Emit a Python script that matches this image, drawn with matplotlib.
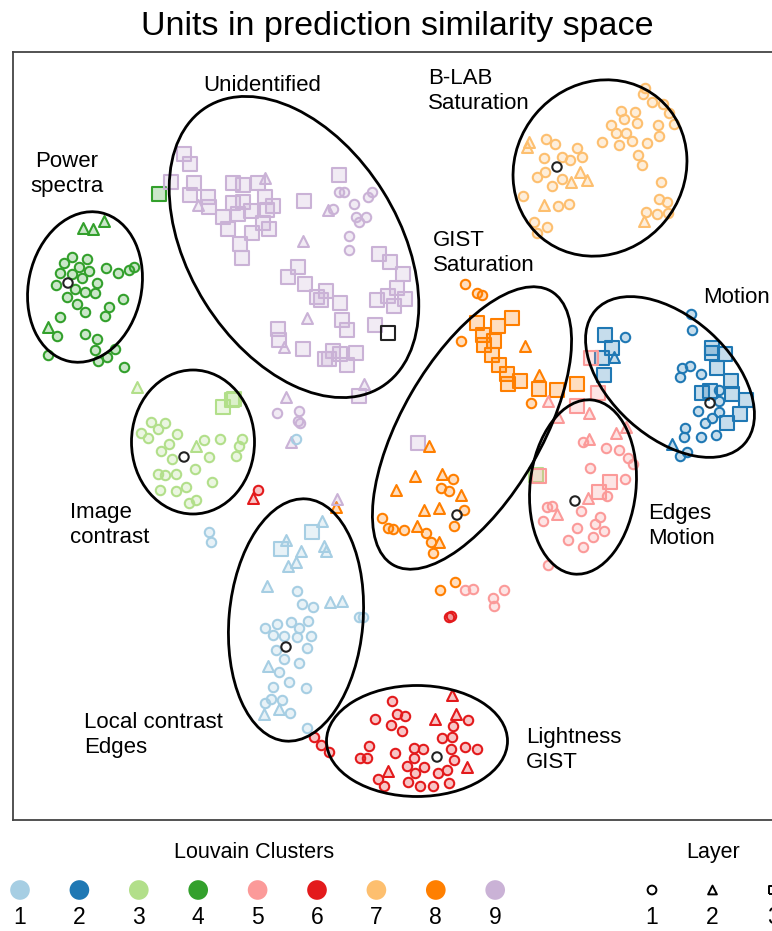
import numpy as np
import matplotlib
matplotlib.use("Agg")
import matplotlib.pyplot as plt
from matplotlib.patches import Ellipse
from matplotlib.colors import to_rgba

plt.rcParams['font.family'] = ['Liberation Sans', 'DejaVu Sans']

# Louvain cluster colours -------------------------------------------------
cluster_ids = [1, 2, 3, 4, 5, 6, 7, 8, 9]
colores = ['#a6cee3', '#1f78b4', '#b2df8a', '#33a02c', '#fb9a99',
           '#e31a1c', '#fdbf6f', '#ff7f00', '#cab2d6']
layer_ids = [1, 2, 3]
layer_markers = ['o', '^', 's']

# embedding coordinates (x, y) per cluster and layer ----------------------
c1_l1 = [(209, 532), (211, 542), (297, 591), (302, 604), (313, 607), (359, 617), (363, 617),
         (265, 628), (277, 624), (291, 622), (299, 628), (308, 621), (273, 635), (284, 636),
         (297, 637), (311, 636), (276, 650), (307, 648), (284, 659), (299, 663), (279, 672),
         (289, 682), (273, 687), (306, 688), (265, 703), (271, 699), (282, 700), (290, 713),
         (307, 728), (296, 439)]
c1_l2 = [(322, 521), (286, 540), (301, 551), (296, 562), (288, 566), (324, 546), (326, 551),
         (267, 586), (330, 602), (342, 601), (268, 666), (264, 714), (279, 709)]
c1_l3 = [(312, 532), (281, 549)]

c2_l1 = [(691, 314), (692, 330), (625, 337), (682, 368), (690, 366), (680, 377), (701, 374),
         (719, 390), (719, 401), (698, 411), (719, 412), (712, 418), (705, 423), (685, 428),
         (684, 437), (701, 437), (716, 435), (687, 452), (680, 456)]
c2_l2 = [(614, 357), (672, 444)]
c2_l3 = [(605, 335), (612, 348), (602, 358), (604, 375), (712, 348), (712, 353), (725, 354),
         (717, 368), (731, 381), (702, 393), (710, 391), (732, 394), (746, 400), (740, 414),
         (727, 423)]

c3_l1 = [(151, 422), (158, 429), (165, 423), (141, 433), (148, 438), (177, 434), (161, 451),
         (169, 444), (172, 459), (204, 440), (220, 439), (242, 439), (239, 446), (236, 456),
         (209, 457), (195, 469), (158, 474), (165, 475), (176, 474), (212, 482), (160, 490),
         (176, 491), (186, 487), (189, 503), (196, 500)]
c3_l2 = [(196, 446), (137, 387)]
c3_l3 = [(223, 407), (232, 400), (234, 399), (536, 475)]

c4_l1 = [(72, 257), (87, 259), (64, 263), (79, 267), (89, 271), (60, 273), (72, 274), (82, 278),
         (106, 268), (118, 273), (129, 270), (134, 267), (56, 285), (97, 283), (75, 289),
         (85, 292), (95, 293), (67, 297), (123, 299), (77, 304), (109, 307), (85, 312),
         (105, 316), (60, 317), (57, 336), (85, 334), (97, 339), (95, 350), (115, 349),
         (107, 357), (98, 361), (48, 355), (124, 367)]
c4_l2 = [(83, 228), (93, 229), (104, 221), (48, 327)]
c4_l3 = [(159, 194)]

c5_l1 = [(583, 442), (606, 448), (619, 450), (628, 458), (633, 464), (590, 468), (625, 479),
         (607, 496), (547, 507), (552, 506), (581, 511), (600, 517), (543, 521), (595, 524),
         (577, 528), (604, 531), (593, 537), (568, 540), (583, 547), (548, 565), (465, 590),
         (473, 589), (493, 598), (504, 590), (494, 606)]
c5_l2 = [(548, 401), (589, 413), (558, 417), (616, 433), (626, 427), (589, 439), (588, 498),
         (557, 514)]
c5_l3 = [(591, 358), (598, 393), (577, 406), (610, 482), (599, 492), (539, 476)]

c6_l1 = [(392, 701), (375, 719), (397, 714), (405, 716), (391, 725), (402, 731), (369, 746),
         (360, 758), (367, 758), (395, 753), (414, 748), (423, 749), (414, 758), (407, 766),
         (424, 767), (415, 773), (378, 779), (384, 786), (408, 782), (420, 786), (433, 786),
         (438, 773), (447, 770), (454, 760), (451, 749), (442, 738), (452, 737), (453, 726),
         (468, 720), (465, 747), (477, 749), (449, 783), (314, 737), (321, 745), (329, 752),
         (449, 617), (451, 616), (258, 490)]
c6_l2 = [(452, 695), (435, 719), (456, 714), (388, 771), (467, 767), (253, 498)]
c6_l3 = []

c7_l1 = [(645, 88), (643, 94), (652, 102), (663, 104), (669, 113), (674, 124), (621, 111),
         (635, 112), (624, 119), (637, 123), (611, 125), (616, 133), (626, 133), (632, 141),
         (619, 145), (647, 143), (658, 125), (659, 136), (602, 142), (638, 155), (642, 165),
         (546, 139), (555, 144), (577, 148), (582, 157), (562, 157), (570, 160), (544, 158),
         (545, 172), (537, 177), (552, 186), (562, 179), (523, 196), (558, 206), (569, 204),
         (534, 222), (547, 227), (537, 233), (661, 182), (659, 199), (667, 202), (657, 214),
         (668, 213), (646, 212)]
c7_l2 = [(529, 142), (527, 147), (580, 172), (571, 182), (587, 180), (544, 205), (644, 221)]
c7_l3 = []

c8_l1 = [(465, 284), (477, 293), (482, 295), (461, 341), (531, 403), (453, 479), (441, 488),
         (449, 491), (464, 510), (382, 518), (388, 528), (393, 529), (404, 530), (426, 533),
         (454, 526), (431, 542), (433, 553), (440, 590), (455, 582)]
c8_l2 = [(525, 346), (539, 375), (429, 446), (415, 476), (442, 474), (396, 490), (461, 495),
         (424, 510), (439, 508), (417, 526), (439, 542), (336, 507)]
c8_l3 = [(512, 318), (477, 323), (498, 326), (483, 335), (494, 341), (484, 345), (492, 355),
         (499, 365), (507, 374), (520, 381), (508, 384), (539, 389), (557, 390), (577, 384)]

c9_l1 = [(339, 192), (344, 192), (333, 209), (354, 204), (368, 197), (372, 192), (356, 217),
         (359, 222), (366, 217), (349, 236), (349, 250), (277, 413), (299, 411), (298, 421),
         (300, 423)]
c9_l2 = [(265, 178), (198, 205), (328, 210), (303, 241), (307, 318), (284, 347), (364, 384),
         (286, 397), (291, 442), (337, 499)]
c9_l3 = [(184, 154), (190, 164), (171, 182), (194, 183), (233, 183), (243, 185), (258, 183),
         (190, 195), (208, 197), (209, 207), (233, 203), (243, 202), (265, 197), (273, 206),
         (267, 210), (251, 211), (238, 214), (223, 217), (263, 223), (269, 229), (228, 229),
         (252, 233), (240, 244), (242, 258), (304, 201), (339, 175), (379, 254), (390, 262),
         (403, 274), (298, 267), (288, 277), (305, 284), (326, 291), (317, 297), (321, 300),
         (340, 303), (397, 288), (388, 296), (405, 299), (377, 300), (394, 306), (342, 320),
         (347, 330), (375, 325), (278, 329), (279, 340), (303, 349), (333, 351), (340, 354),
         (356, 353), (325, 359), (329, 359), (347, 365), (359, 396), (418, 443)]

# medoid unit of each cluster (drawn in black)
medoid_xy = [(286, 647), (710, 403), (184, 457), (68, 283), (575, 501), (437, 757),
             (557, 167), (457, 515), (388, 333)]
medoid_layer = [1, 1, 1, 1, 1, 1, 1, 1, 3]

# cluster ellipses: centre, width, height, angle
ell_xy = [(85, 287), (294, 247), (600, 168), (472, 428), (583, 487), (670, 377),
          (193, 442), (296, 620), (417, 741)]
ell_w = [113, 210, 168, 140, 106, 120, 123, 134, 181]
ell_h = [152, 330, 182, 316, 175, 200, 144, 243, 111]
ell_ang = [12, -32, 40, 30, 6, -48, 0, 5, 0]

etiquetas = ['Power\nspectra', 'Unidentified', 'B-LAB\nSaturation', 'GIST\nSaturation',
             'Motion', 'Image\ncontrast', 'Edges\nMotion', 'Local contrast\nEdges',
             'Lightness\nGIST']
etiq_xy = [(67, 174), (262, 86), (428, 91), (433, 253), (703, 298), (70, 525),
           (648, 526), (84, 735), (526, 750)]
etiq_ha = ['center', 'center', 'left', 'left', 'left', 'left', 'left', 'left', 'left']

datos = [[c1_l1, c1_l2, c1_l3], [c2_l1, c2_l2, c2_l3], [c3_l1, c3_l2, c3_l3],
         [c4_l1, c4_l2, c4_l3], [c5_l1, c5_l2, c5_l3], [c6_l1, c6_l2, c6_l3],
         [c7_l1, c7_l2, c7_l3], [c8_l1, c8_l2, c8_l3], [c9_l1, c9_l2, c9_l3]]

tam = {'o': 46, '^': 62, 's': 90}

# figure -------------------------------------------------------------------
W, H = 772, 931
fig = plt.figure(figsize=(W / 100, H / 100), dpi=100)
ax = fig.add_axes([13 / W, 1 - 820 / H, (795 - 13) / W, (820 - 52) / H])
ax.set_xlim(13, 795)
ax.set_ylim(820, 52)
ax.set_xticks([])
ax.set_yticks([])
for s in ax.spines.values():
    s.set_color('#444444')
    s.set_linewidth(1.3)

# layer 3 squares first, then triangles, then circles
for li in [2, 1, 0]:
    for ci in range(9):
        pts = datos[ci][li]
        if len(pts) == 0:
            continue
        pts = np.array(pts)
        col = colores[ci]
        ax.scatter(pts[:, 0], pts[:, 1], s=tam[layer_markers[li]], marker=layer_markers[li],
                   facecolors=[to_rgba(col, 0.25)], edgecolors=[col], linewidths=1.5,
                   zorder=3 + (2 - li))

for (x, y), l in zip(medoid_xy, medoid_layer):
    m = layer_markers[l - 1]
    ax.scatter([x], [y], s=tam[m], marker=m, facecolors='none', edgecolors='#222222',
               linewidths=1.5, zorder=7)

for (x, y), w, h, a in zip(ell_xy, ell_w, ell_h, ell_ang):
    ax.add_patch(Ellipse((x, y), w, h, angle=a, fill=False, ec='black', lw=2.0, zorder=8))

for t, (x, y), ha in zip(etiquetas, etiq_xy, etiq_ha):
    ax.text(x, y, t, ha=ha, va='center', multialignment=ha, fontsize=16,
            linespacing=1.2, zorder=9)

fig.text(397 / W, 1 - 27 / H, 'Units in prediction similarity space',
         ha='center', va='center', fontsize=24.5)

# legends ------------------------------------------------------------------
lax = fig.add_axes([0, 0, 1, 110 / H])
lax.set_xlim(0, W)
lax.set_ylim(931, 821)
lax.axis('off')

lax.text(254, 852, 'Louvain Clusters', ha='center', va='center', fontsize=15.5)
for i, (cid, col) in enumerate(zip(cluster_ids, colores)):
    xx = 20 + 59.4 * i
    lax.scatter([xx], [890], s=200, color=col, edgecolors='none', clip_on=False)
    lax.text(xx, 917, str(cid), ha='center', va='center', fontsize=16.5)

lax.text(713, 852, 'Layer', ha='center', va='center', fontsize=15.5)
for i, (lid, m) in enumerate(zip(layer_ids, layer_markers)):
    xx = 652 + 60.5 * i
    lax.scatter([xx], [890], s=40, marker=m, facecolors='none', edgecolors='black',
                linewidths=1.4, clip_on=False)
    lax.text(xx, 917, str(lid), ha='center', va='center', fontsize=16.5)

fig.savefig('out.png', dpi=100)
